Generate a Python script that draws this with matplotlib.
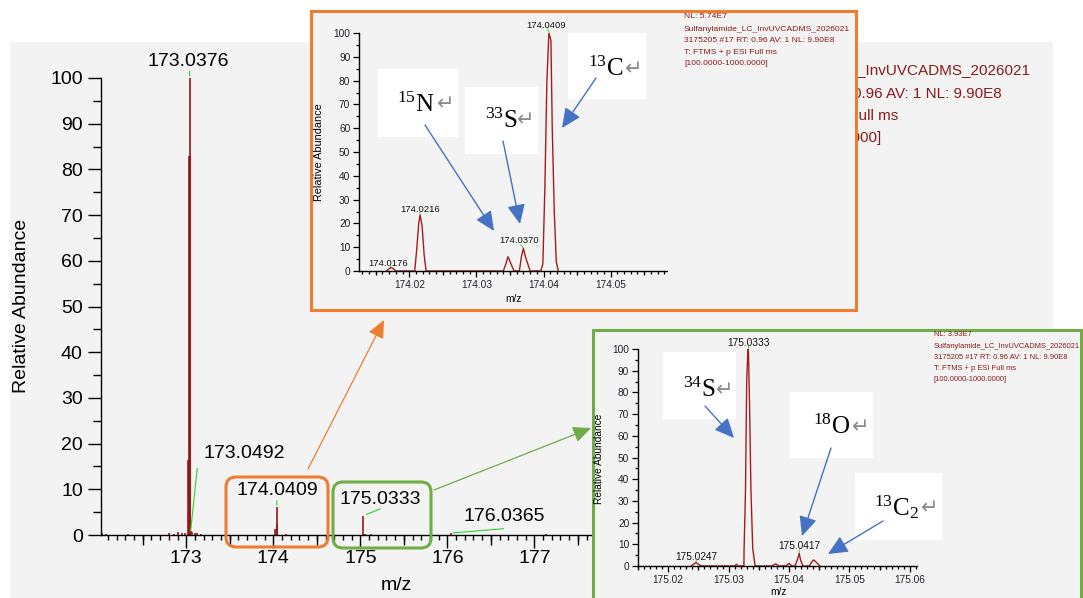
import matplotlib
matplotlib.use('Agg')
import matplotlib.pyplot as plt
from matplotlib.patches import Rectangle, FancyBboxPatch, FancyArrowPatch, ArrowStyle
from matplotlib.ticker import MultipleLocator, FixedLocator
from matplotlib.transforms import IdentityTransform, Bbox

plt.rcParams['font.family'] = ['Liberation Sans', 'DejaVu Sans']
plt.rcParams['mathtext.fontset'] = 'custom'
plt.rcParams['mathtext.rm'] = 'Liberation Serif'
plt.rcParams['mathtext.it'] = 'Liberation Serif:italic'
plt.rcParams['mathtext.bf'] = 'Liberation Serif:bold'

# ---------------- data ----------------
# full scan, centroid-like sticks (m/z, relative abundance)
main_mz = [172.03, 172.08, 172.33, 172.80, 172.86, 172.91, 172.95, 172.98,
           173.0226, 173.0368, 173.0376, 173.0384, 173.0492, 173.07, 173.10, 173.12, 173.17,
           174.0216, 174.0370, 174.0398, 174.0409, 174.0420, 174.15,
           175.0333, 175.05, 175.12,
           176.0365, 177.13]
main_int = [0.5, 0.2, 0.3, 0.4, 0.3, 0.6, 0.5, 0.4,
            16.5, 83, 100, 83, 0.8, 0.6, 0.5, 0.4, 0.3,
            1.4, 0.6, 2.5, 6.1, 2.5, 0.3,
            4.2, 0.3, 0.3,
            0.4, 0.3]
main_ticks = [173, 174, 175, 176, 177]
main_labels = ['173.0376', '173.0492', '174.0409', '175.0333', '176.0365']
main_label_mz = [173.0376, 173.0492, 174.0409, 175.0333, 176.0365]
main_label_int = [100, 0.8, 6.1, 4.2, 0.4]

# zoom on m/z 174 (profile)
ins1_mz = [174.0166, 174.0170, 174.0173, 174.0176, 174.0180,
           174.0208, 174.0211, 174.0214, 174.0216, 174.0219, 174.0222, 174.0225,
           174.0340, 174.0344, 174.0347, 174.0350, 174.0356,
           174.0364, 174.0367, 174.0370, 174.0373, 174.0380,
           174.0396, 174.0399, 174.0402, 174.0405, 174.0408, 174.0411, 174.0413,
           174.0416, 174.0419, 174.0422]
ins1_int = [0, 1.0, 1.5, 1.0, 0,
            0, 9, 20, 23.5, 19, 7, 0,
            0, 3, 6, 4, 0,
            0, 6, 9.5, 6, 0,
            0, 3, 35, 80, 100, 97, 60,
            25, 4, 0]
ins1_labels = ['174.0409', '174.0216', '174.0370', '174.0176']
ins1_label_mz = [174.0409, 174.0216, 174.0370, 174.0173]
ins1_label_int = [100, 23.5, 9.5, 1.5]

# zoom on m/z 175 (profile)
ins2_mz = [175.0238, 175.0243, 175.0246, 175.0249, 175.0255,
           175.0310, 175.0313, 175.0316,
           175.03254, 175.03256, 175.0328, 175.0330, 175.0332, 175.0333, 175.0335,
           175.0337, 175.0340, 175.0344,
           175.0372, 175.0378, 175.0383,
           175.0395, 175.0400, 175.0405,
           175.0410, 175.0414, 175.0417, 175.0419, 175.0423,
           175.0434, 175.0438, 175.0441, 175.0446, 175.0451]
ins2_int = [0, 1, 1.6, 1, 0,
            0, 0.8, 0,
            0, 7, 35, 85, 100, 98, 70,
            35, 8, 0,
            0, 1, 0,
            0, 1.2, 0,
            0, 3, 5.8, 3, 0,
            0, 2, 2.8, 1.5, 0]
ins2_labels = ['175.0333', '175.0247', '175.0417']
ins2_label_mz = [175.0333, 175.0246, 175.0417]
ins2_label_int = [100, 1.6, 5.8]

main_header = ['Sulfanylamide_LC_InvUVCADMS_2026021',
               '3175205 #17 RT: 0.96 AV: 1 NL: 9.90E8',
               'T: FTMS + p ESI Full ms',
               '[100.0000-1000.0000]']
ins1_header = ['NL: 5.74E7'] + main_header
ins2_header = ['NL: 3.93E7'] + main_header

iso1_text = [r'$^{15}\mathrm{N}$', r'$^{33}\mathrm{S}$', r'$^{13}\mathrm{C}$']
iso2_text = [r'$^{34}\mathrm{S}$', r'$^{18}\mathrm{O}$', r'$^{13}\mathrm{C}_{2}$']

# ---------------- layout (pixels) ----------------
W, H = 1083, 598
RED = '#951515'
RED2 = '#a31c1c'
GREEN = '#2fd12f'
ORANGE = '#ED7D31'
LGREEN = '#70AD47'
BLUE = '#4472C4'
BG = '#f3f3f3'
HDR = '#8b1a1a'
ID = IdentityTransform()

main_label_off = [(-1.3, 16), (54, 78), (0, 17), (16.6, 16.8), (53.3, 16.2)]
main_leader = [((0, 7), 1.5), ((6.7, 63), 0), ((0, 6.5), 1.5), ((17, 7), 2.5), ((53, 4.5), 2)]
ins1_label_off = [(-3.5, 8), (0, 5.5), (-4.3, 7.4), (-3, 4.3)]
ins2_label_off = [(0, 6.3), (0.6, 5.8), (0, 7.4)]

iso1_box = [(378, 69, 458, 137), (465, 87, 538, 154), (568, 33, 646, 99)]
iso1_pos = [(397, 111.5, 437), (485, 127.5, 517), (588, 76, 625)]
iso1_arrow = [((425, 125), (494, 231)), ((503, 141), (520, 224)), ((596, 78), (562, 128))]
iso2_box = [(663, 352, 736, 419), (790, 392, 873, 458), (855, 473, 942, 540)]
iso2_pos = [(683, 397, 716), (813, 434, 852), (874, 515, 921)]
iso2_arrow = [((705, 406), (734, 438)), ((831, 448), (802, 536)), ((883, 521), (828, 554))]


def frac(l, t, r, b):
    return [l / W, 1 - b / H, (r - l) / W, (b - t) / H]


def P(x, y):
    return (x, H - y)


fig = plt.figure(figsize=(W / 100, H / 100), dpi=100)

# grey panel behind the full scan
fig.add_artist(Rectangle(P(10, 598), 1043, 556, transform=ID, fc=BG, ec='none', zorder=-5))

# ---------------- main spectrum ----------------
ax = fig.add_axes(frac(101, 78, 691, 535), zorder=1)
ax.set_facecolor('none')
ax.vlines(main_mz, 0, main_int, color=RED, lw=1.2)
ax.set_xlim(172.02, 178.8)
ax.set_ylim(0, 100)
for s in ('top', 'right'):
    ax.spines[s].set_visible(False)
for s in ('left', 'bottom'):
    ax.spines[s].set_linewidth(1.0)
ax.xaxis.set_major_locator(FixedLocator(main_ticks))
ax.xaxis.set_minor_locator(MultipleLocator(0.1))
ax.yaxis.set_major_locator(MultipleLocator(10))
ax.yaxis.set_minor_locator(MultipleLocator(5))
ax.tick_params(axis='y', which='major', length=9.1, width=1, labelsize=14, pad=4)
ax.tick_params(axis='y', which='minor', length=5.8, width=1)
ax.tick_params(axis='x', which='major', length=9.4, width=1, labelsize=14, pad=1.5)
ax.tick_params(axis='x', which='minor', length=3.6, width=1)
sec = ax.secondary_xaxis('bottom')
sec.xaxis.set_major_locator(MultipleLocator(1, offset=0.5))
sec.tick_params(length=7.2, width=1, labelbottom=False)
sec.spines['bottom'].set_visible(False)

for lab, mz, it, (dx, dy) in zip(main_labels, main_label_mz, main_label_int, main_label_off):
    ax.annotate(lab, (mz, it), xytext=(dx, dy), textcoords='offset pixels',
                ha='center', va='center', fontsize=14, annotation_clip=False)
for mz, it, ((dx, dy), sb) in zip(main_label_mz, main_label_int, main_leader):
    ax.annotate('', (mz, it), xytext=(dx, dy), textcoords='offset pixels', annotation_clip=False,
                arrowprops=dict(arrowstyle='-', color=GREEN, lw=0.8, shrinkA=0, shrinkB=sb))

fig.text(22, H - 306, 'Relative Abundance', transform=ID, rotation=90,
         ha='center', va='center', fontsize=14)
fig.text(396, H - 585, 'm/z', transform=ID, ha='center', va='center', fontsize=14)
# scan header of the full spectrum, partly hidden behind the orange zoom
hdr_clip = Bbox([[857, 0], [W, H]])
for i, line in enumerate(main_header):
    t = fig.text(733, H - [71, 94, 116, 138][i], line, transform=ID, ha='left', va='center',
                 fontsize=11, color=HDR, zorder=2)
    t.set_clip_box(hdr_clip)
    t.set_clip_on(True)

# boxes around the isotope clusters and arrows to the zooms
fig.add_artist(FancyBboxPatch(P(226, 547), 102, 70, boxstyle='round,pad=0,rounding_size=10',
                              transform=ID, fc='none', ec=ORANGE, lw=2.2, zorder=3))
fig.add_artist(FancyBboxPatch(P(333, 548), 98, 66, boxstyle='round,pad=0,rounding_size=10',
                              transform=ID, fc='none', ec=LGREEN, lw=2.2, zorder=3))
for (a, b), c in [(((308, 469), (384, 320)), ORANGE), (((434, 490), (591, 428)), LGREEN)]:
    fig.add_artist(FancyArrowPatch(P(*a), P(*b), transform=ID, color=c, lw=0.9,
                                   arrowstyle=ArrowStyle('-|>', head_length=11, head_width=5),
                                   mutation_scale=1, shrinkA=0, shrinkB=0, zorder=3))


# ---------------- zoom panels ----------------
def zoom_panel(frame, rect, xlim, mz, inten, labels, lmz, lint, loff, lsize,
               ylab_pos, ylab_size, mz_pos, header, hdr_x, hdr_y, hdr_size, ec):
    l, t, r, b = frame
    fig.add_artist(Rectangle(P(l, b), r - l, b - t, transform=ID, fc=BG, ec=ec, lw=2.2, zorder=4))
    a = fig.add_axes(frac(*rect), zorder=5)
    a.set_facecolor('none')
    a.plot(mz, inten, color=RED2, lw=1.0)
    a.set_xlim(*xlim)
    a.set_ylim(0, 100)
    for s in ('top', 'right'):
        a.spines[s].set_visible(False)
    for s in ('left', 'bottom'):
        a.spines[s].set_linewidth(1.0)
    a.xaxis.set_major_locator(MultipleLocator(0.01))
    a.xaxis.set_minor_locator(MultipleLocator(0.001))
    a.yaxis.set_major_locator(MultipleLocator(10))
    a.yaxis.set_minor_locator(MultipleLocator(5))
    a.xaxis.set_major_formatter(lambda v, p: f'{v:.2f}')
    a.tick_params(which='major', length=4.3, width=0.9, labelsize=7.3, pad=2, labelcolor='#22222e')
    a.tick_params(which='minor', length=1.9, width=0.9)
    a.tick_params(axis='y', which='minor', length=2.3)
    s2 = a.secondary_xaxis('bottom')
    s2.xaxis.set_major_locator(MultipleLocator(0.01, offset=0.005))
    s2.tick_params(length=2.9, width=0.9, labelbottom=False)
    s2.spines['bottom'].set_visible(False)
    for lab, x, y, (dx, dy) in zip(labels, lmz, lint, loff):
        a.annotate(lab, (x, y), xytext=(dx, dy), textcoords='offset pixels', ha='center',
                   va='center', fontsize=lsize, annotation_clip=False, color='#111111')
        a.annotate('', (x, y), xytext=(dx * 0.6, dy * 0.5), textcoords='offset pixels',
                   annotation_clip=False,
                   arrowprops=dict(arrowstyle='-', color=GREEN, lw=0.7, shrinkA=0, shrinkB=0.5))
    fig.text(*P(*ylab_pos), 'Relative Abundance', transform=ID, rotation=90, ha='center',
             va='center', fontsize=ylab_size, zorder=6)
    fig.text(*P(*mz_pos), 'm/z', transform=ID, ha='center', va='center', fontsize=7.3, zorder=6)
    for line, y in zip(header, hdr_y):
        fig.text(*P(hdr_x, y), line, transform=ID, ha='left', va='center', fontsize=hdr_size,
                 color=HDR, zorder=6)
    return a


zoom_panel((311, 11, 856, 310), (359, 33, 667, 271), (174.0125, 174.0584),
           ins1_mz, ins1_int, ins1_labels, ins1_label_mz, ins1_label_int, ins1_label_off, 6.8,
           (319, 152), 7.8, (513, 299), ins1_header, 684, [16, 29.5, 41, 52.5, 63.5], 6.1, ORANGE)
zoom_panel((593, 330, 1081, 604), (638, 349, 917, 566), (175.015, 175.0612),
           ins2_mz, ins2_int, ins2_labels, ins2_label_mz, ins2_label_int, ins2_label_off, 7.3,
           (599, 459), 7.3, (778, 592), ins2_header, 934, [334.7, 346, 357.3, 368.3, 379.3], 5.4,
           LGREEN)

# ---------------- isotope call-outs ----------------
for texts, boxes, pos, arrows in [(iso1_text, iso1_box, iso1_pos, iso1_arrow),
                                  (iso2_text, iso2_box, iso2_pos, iso2_arrow)]:
    for s, (l, t, r, b), (tx, ty, rx), (a0, a1) in zip(texts, boxes, pos, arrows):
        fig.add_artist(Rectangle(P(l, b), r - l, b - t, transform=ID, fc='white', ec='none', zorder=7))
        fig.text(*P(tx, ty), s, transform=ID, ha='left', va='baseline', fontsize=18,
                 color='black', zorder=9)
        fig.text(*P(rx, ty - 1), '\u21b5', transform=ID, ha='left', va='baseline', fontsize=15,
                 color='#8a8a8a', family=['DejaVu Sans'], zorder=9)
        fig.add_artist(FancyArrowPatch(P(*a0), P(*a1), transform=ID, color=BLUE, lw=1.0,
                                       arrowstyle=ArrowStyle('-|>', head_length=12, head_width=5.5),
                                       mutation_scale=1, shrinkA=0, shrinkB=0, zorder=8))

fig.savefig('out.png', dpi=100, facecolor='white')
